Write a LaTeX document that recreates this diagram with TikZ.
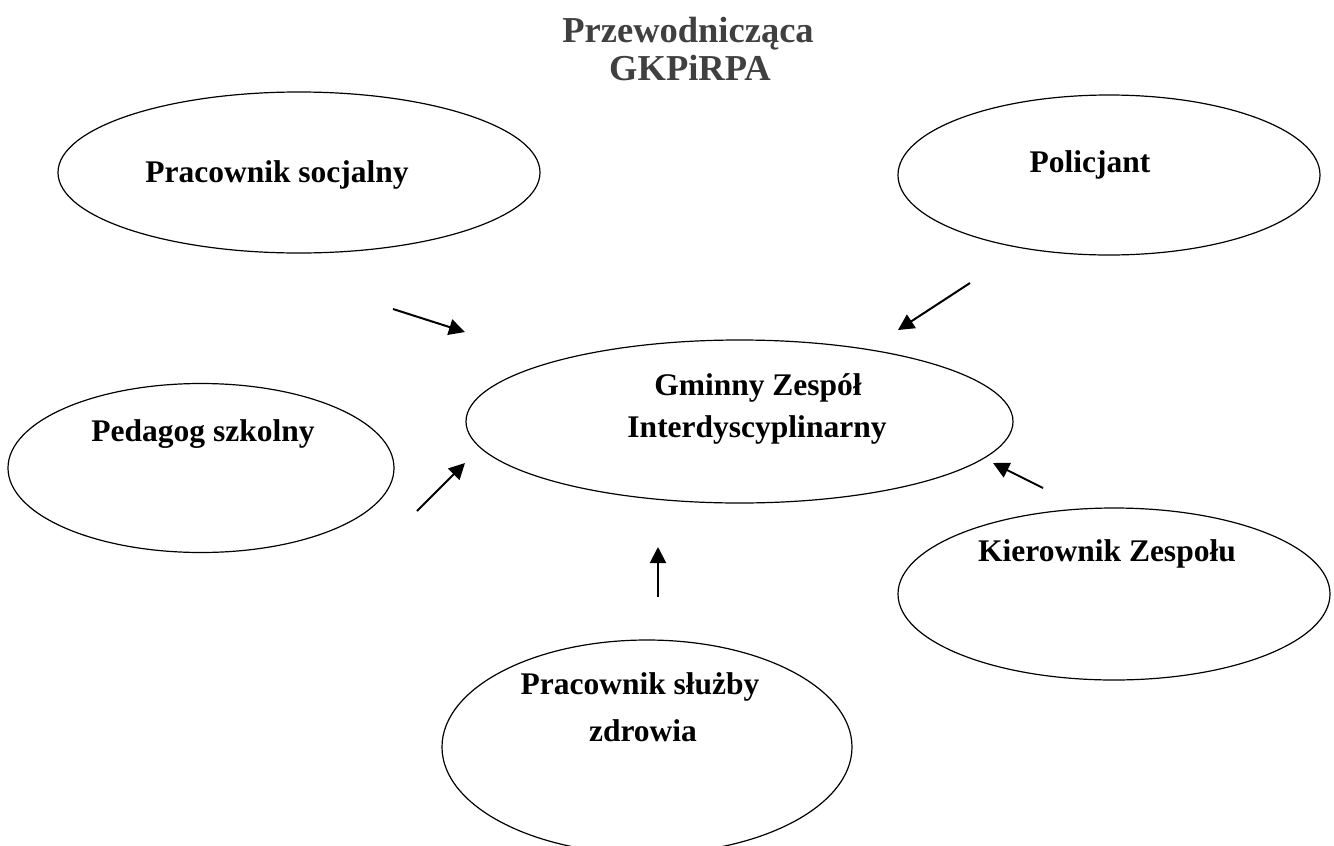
\documentclass[tikz,border=0pt]{standalone}
\usepackage{fontspec}
\setmainfont{Liberation Serif}
\usetikzlibrary{shapes.geometric,arrows.meta,positioning}
\definecolor{titlegray}{HTML}{404040}

\begin{document}
\begin{tikzpicture}[x=1pt,y=-1pt,
		oval/.style={ellipse,draw=black,line width=1.2pt,inner sep=0pt},
		lbl/.style={font=\fontsize{31.5}{36}\selectfont\bfseries,anchor=base,inner sep=0pt},
		ttl/.style={font=\fontsize{36.5}{38}\selectfont\bfseries,anchor=base,inner sep=0pt,text=titlegray},
		link/.style={line width=2pt,-{Triangle[length=16pt,width=16pt]}}
	]
	\useasboundingbox (0,0) rectangle (1334,846);
		% title
		\node[ttl] (title1) at (688,42) {Przewodnicząca};
		\node[ttl] (title2) at (690,80) {GKPiRPA};

		% the ovals
		\node[oval,minimum width=482,minimum height=161] (socjalny)  at (299,172.5) {};
		\node[oval,minimum width=422,minimum height=160] (policjant) at (1109,175)  {};
		\node[oval,minimum width=547,minimum height=163] (zespol)    at (739.5,421.5) {};
		\node[oval,minimum width=386,minimum height=169] (pedagog)   at (201,468)   {};
		\node[oval,minimum width=432,minimum height=172] (kierownik) at (1114,594)  {};
		\node[oval,minimum width=410,minimum height=214] (zdrowie)   at (647,747)   {};

		\node[lbl] (txtSocjalny)  at (277,182)  {Pracownik socjalny};
		\node[lbl] (txtPolicjant) at (1090,172) {Policjant};
		\node[lbl] (txtZespol1)   at (758,395)  {Gminny Zespół};
		\node[lbl] (txtZespol2)   at (757,437)  {Interdyscyplinarny};
		\node[lbl] (txtPedagog)   at (203,441)  {Pedagog szkolny};
		\node[lbl] (txtKierownik) at (1107,561) {Kierownik Zespołu};
		\node[lbl] (txtZdrowie1)  at (640,694)  {Pracownik służby};
		\node[lbl] (txtZdrowie2)  at (643,741)  {zdrowia};

		% arrow ends
		\coordinate (s1) at (393,309);  \coordinate (s2) at (465,332);
		\coordinate (p1) at (970,283);  \coordinate (p2) at (898,330);
		\coordinate (g1) at (417,511);  \coordinate (g2) at (465,463);
		\coordinate (z1) at (658,597);  \coordinate (z2) at (658,547);
		\coordinate (k1) at (1043,488); \coordinate (k2) at (993,463);

		\draw[link] (s1) -- (s2);
		\draw[link] (p1) -- (p2);
		\draw[link] (g1) -- (g2);
		\draw[link] (z1) -- (z2);
		\draw[link] (k1) -- (k2);
	\end{tikzpicture}
\end{document}
